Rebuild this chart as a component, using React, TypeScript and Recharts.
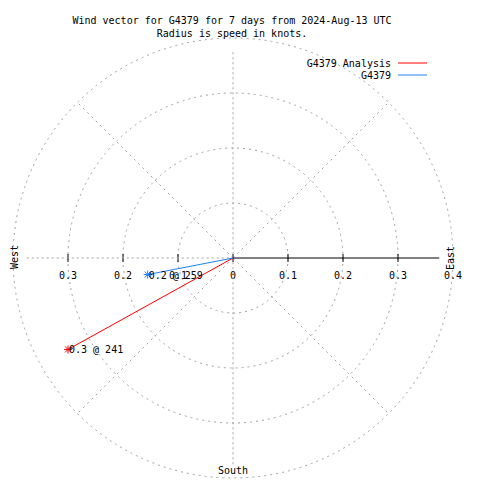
import React from "react"
import {
  RadarChart,
  Radar,
  PolarGrid,
  PolarAngleAxis,
  PolarRadiusAxis,
  ScatterChart,
  Scatter,
  XAxis,
  YAxis,
  ReferenceLine,
} from "recharts"

// diagonal spokes of the compass grid (cardinal lines are drawn as axes)
const diagonals = ["NE", "SE", "SW", "NW"]
const radiusTicks = [0, 0.1, 0.2, 0.3, 0.4]
const westTicks = [0.1, 0.2, 0.3]

const seriesNames = ["G4379 Analysis", "G4379"]
const speeds = [0.343, 0.158] // knots
const directions = [241, 259] // degrees from north, clockwise

const titleLines = [
  "Wind vector for G4379 for 7 days from 2024-Aug-13 UTC",
  "Radius is speed in knots.",
]

const CX = 233
const CY = 258
const R = 220
const MAX_R = 0.4
const AXIS_REACH = 0.375
const COLORS = ["#ff0000", "#1e80f8"]
const GRID = "#a0a0a0"
const FONT = "'DejaVu Sans Mono', monospace"

const vectors = seriesNames.map((name, i) => {
  const rad = (directions[i] * Math.PI) / 180
  return {
    name,
    color: COLORS[i],
    data: [
      { x: 0, y: 0, tip: false, label: "" },
      {
        x: speeds[i] * Math.sin(rad),
        y: speeds[i] * Math.cos(rad),
        tip: true,
        label: `${speeds[i].toFixed(1)} @ ${directions[i]}`,
      },
    ],
  }
})

// grid frame: every spoke sits at the centre (calm)
const gridData = diagonals.map((d) => ({ dir: d, calm: 0 }))

const RadiusTick = (props: any) => {
  const { x, y, payload } = props
  const v = payload.value
  const label = v === 0 ? "0" : v.toFixed(1)
  const wx = 2 * CX - x
  return (
    <g>
      {v < MAX_R && <line x1={x} x2={x} y1={y - 4} y2={y + 4} stroke="#000" />}
      <text x={x} y={y + 21} textAnchor="middle" fontFamily={FONT} fontSize={10} fill="#000">
        {label}
      </text>
      {westTicks.includes(v) && (
        <>
          <line x1={wx} x2={wx} y1={y - 4} y2={y + 4} stroke="#000" />
          <text x={wx} y={y + 21} textAnchor="middle" fontFamily={FONT} fontSize={10} fill="#000">
            {label}
          </text>
        </>
      )}
    </g>
  )
}

const tipShape = (color: string) => (props: any) => {
  const { cx, cy, payload } = props
  if (!payload || !payload.tip) return <g />
  const d = `M${cx - 4},${cy}H${cx + 4}M${cx},${cy - 4}V${cy + 4}M${cx - 3},${cy - 3}L${cx + 3},${cy + 3}M${cx - 3},${cy + 3}L${cx + 3},${cy - 3}`
  return (
    <g>
      <path d={d} stroke={color} fill="none" />
      <text x={cx + 1} y={cy + 4} fontFamily={FONT} fontSize={10} fill="#000">
        {payload.label}
      </text>
    </g>
  )
}

const layer: React.CSSProperties = { position: "absolute", left: 0, top: 0 }

export default function App() {
  const reach = AXIS_REACH
  return (
    <div style={{ ...layer, width: 480, height: 480, background: "#fff", overflow: "hidden" }}>
      <div style={layer}>
        <RadarChart
          width={480}
          height={480}
          cx={CX}
          cy={CY}
          outerRadius={R}
          startAngle={45}
          endAngle={-315}
          data={gridData}
          margin={{ top: 0, right: 0, bottom: 0, left: 0 }}
        >
          <PolarGrid gridType="circle" stroke={GRID} strokeDasharray="2 4" />
          <PolarAngleAxis dataKey="dir" type="category" tick={false} axisLine={false} tickLine={false} />
          <PolarRadiusAxis
            angle={0}
            type="number"
            domain={[0, MAX_R]}
            ticks={radiusTicks}
            allowDataOverflow
            axisLine={false}
            tick={RadiusTick}
          />
          <Radar dataKey="calm" stroke="none" fill="none" dot={false} isAnimationActive={false} />
        </RadarChart>
      </div>
      <div style={layer}>
        <ScatterChart width={480} height={480} margin={{ top: CY - R, right: 480 - CX - R, bottom: 480 - CY - R, left: CX - R }}>
          <XAxis type="number" dataKey="x" domain={[-MAX_R, MAX_R]} hide allowDataOverflow />
          <YAxis type="number" dataKey="y" domain={[-MAX_R, MAX_R]} hide allowDataOverflow />
          <ReferenceLine
            segment={[{ x: 0, y: -reach }, { x: 0, y: reach }]}
            stroke={GRID}
            strokeDasharray="2 3"
            ifOverflow="visible"
          />
          <ReferenceLine
            segment={[{ x: -reach, y: 0 }, { x: 0, y: 0 }]}
            stroke={GRID}
            strokeDasharray="2 3"
            ifOverflow="visible"
          />
          <ReferenceLine
            segment={[{ x: 0, y: 0 }, { x: reach, y: 0 }]}
            stroke="#000"
            ifOverflow="visible"
          />
          {vectors.map((v) => (
            <Scatter
              key={v.name}
              name={v.name}
              data={v.data}
              fill={v.color}
              line={{ stroke: v.color, strokeWidth: 1 }}
              lineType="joint"
              shape={tipShape(v.color)}
              isAnimationActive={false}
            />
          ))}
        </ScatterChart>
      </div>
      <svg width={480} height={480} style={{ ...layer, pointerEvents: "none" }}>
        <g fontFamily={FONT} fontSize={10} fill="#000">
          {titleLines.map((t, i) => (
            <text key={t} x={232} y={24 + i * 13} textAnchor="middle">
              {t}
            </text>
          ))}
          {seriesNames.map((n, i) => (
            <g key={n}>
              <text x={391} y={67 + i * 12} textAnchor="end">
                {n}
              </text>
              <line x1={398} x2={427} y1={63 + i * 12} y2={63 + i * 12} stroke={COLORS[i]} />
            </g>
          ))}
          <text x={233} y={474} textAnchor="middle">
            South
          </text>
          <text x={18} y={257} textAnchor="middle" transform="rotate(-90 18 257)">
            West
          </text>
          <text x={454} y={258} textAnchor="middle" transform="rotate(-90 454 258)">
            East
          </text>
        </g>
      </svg>
    </div>
  )
}
